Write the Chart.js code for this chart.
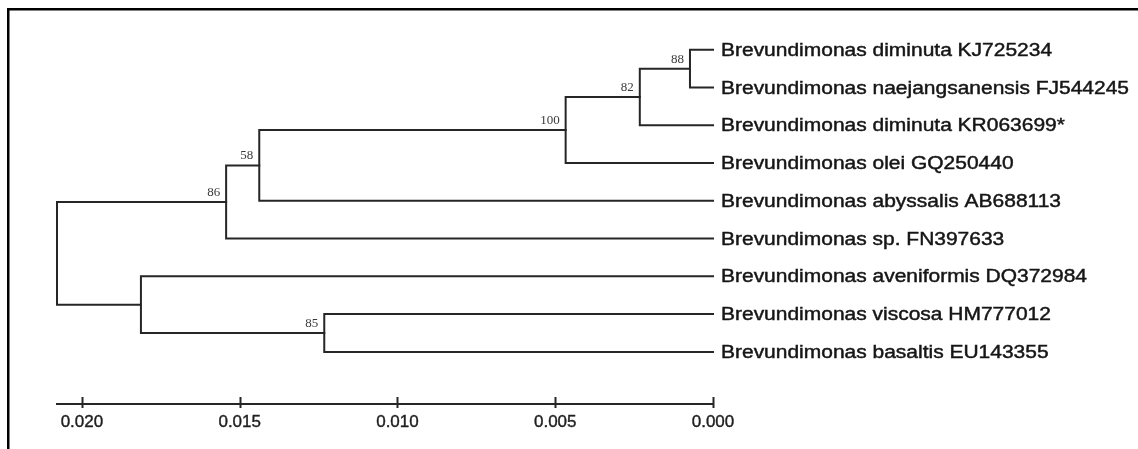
<!DOCTYPE html>
<html>
<head>
<meta charset="utf-8">
<script src="https://cdn.jsdelivr.net/npm/chart.js@4/dist/chart.umd.min.js"></script>
<style>
  html, body { margin: 0; padding: 0; background: #ffffff; }
  #wrap { width: 1138px; height: 449px; position: relative; }
</style>
</head>
<body>
<div id="wrap"><canvas id="c" width="1138" height="449"></canvas></div>
<script>
// ---- Data read from the tree ----
const leafLabels = [
  'Brevundimonas diminuta KJ725234',
  'Brevundimonas naejangsanensis FJ544245',
  'Brevundimonas diminuta KR063699*',
  'Brevundimonas olei GQ250440',
  'Brevundimonas abyssalis AB688113',
  'Brevundimonas sp. FN397633',
  'Brevundimonas aveniformis DQ372984',
  'Brevundimonas viscosa HM777012',
  'Brevundimonas basaltis EU143355'
];
const leafHeights = [0, 0, 0, 0, 0, 0, 0, 0, 0];
const nodeIds = ['n88', 'n82', 'n100', 'n58', 'n86', 'n85', 'nAvBas', 'root'];
const nodeHeights = [0.00073, 0.00232, 0.00467, 0.01438, 0.01543, 0.01232, 0.01813, 0.02079];
const nodeChildren = [
  ['L0', 'L1'], ['n88', 'L2'], ['n82', 'L3'], ['n100', 'L4'],
  ['n58', 'L5'], ['L7', 'L8'], ['L6', 'n85'], ['n86', 'nAvBas']
];
const bootstrapValues = [88, 82, 100, 58, 86, 85, null, null];
const xTickValues = [0.020, 0.015, 0.010, 0.005, 0.000];

// ---- Tree layout (y = leaf order, x = distance) ----
const pos = {};
leafLabels.forEach((_, i) => { pos['L' + i] = { h: leafHeights[i], y: i }; });
nodeIds.forEach((id, i) => {
  const [a, b] = nodeChildren[i];
  pos[id] = { h: nodeHeights[i], y: (pos[a].y + pos[b].y) / 2 };
});

const lineColor = '#262626';
const datasets = nodeIds.map((id, i) => {
  const [a, b] = nodeChildren[i];
  const A = pos[a], B = pos[b], N = pos[id];
  return {
    label: id,
    data: [{ x: A.h, y: A.y }, { x: N.h, y: A.y }, { x: N.h, y: B.y }, { x: B.h, y: B.y }],
    showLine: true, fill: false, tension: 0,
    borderColor: lineColor, borderWidth: 2,
    pointRadius: 0, pointHoverRadius: 0,
    borderCapStyle: 'square', borderJoinStyle: 'miter',
    clip: false
  };
});

const framePlugin = {
  id: 'frame',
  beforeDraw(chart) {
    const ctx = chart.ctx;
    ctx.save();
    ctx.fillStyle = '#ffffff';
    ctx.fillRect(0, 0, chart.width, chart.height);
    ctx.fillStyle = '#000000';
    ctx.fillRect(7, 8, chart.width - 7, 2.5);
    ctx.fillRect(7, 8, 2.5, chart.height - 8);
    ctx.restore();
  }
};

const labelPlugin = {
  id: 'treeLabels',
  afterDatasetsDraw(chart) {
    const ctx = chart.ctx;
    const xs = chart.scales.x, ys = chart.scales.y;
    ctx.save();
    // leaf labels
    ctx.fillStyle = '#161616';
    ctx.strokeStyle = '#161616';
    ctx.lineWidth = 0.45;
    ctx.font = '18px "Liberation Sans", Arial, sans-serif';
    ctx.textAlign = 'left';
    ctx.textBaseline = 'alphabetic';
    leafLabels.forEach((name, i) => {
      const px = xs.getPixelForValue(leafHeights[i]) + 8;
      const py = ys.getPixelForValue(i) + 6;
      ctx.save();
      ctx.translate(px, py);
      ctx.scale(1.165, 1);
      ctx.fillText(name, 0, 0);
      ctx.strokeText(name, 0, 0);
      ctx.restore();
    });
    // bootstrap values
    ctx.fillStyle = '#3a3a3a';
    ctx.font = '13px "Liberation Serif", "Times New Roman", serif';
    ctx.textAlign = 'right';
    nodeIds.forEach((id, i) => {
      const v = bootstrapValues[i];
      if (v === null) return;
      const px = xs.getPixelForValue(pos[id].h) - 6;
      const py = ys.getPixelForValue(pos[id].y) - 6;
      ctx.fillText(String(v), px, py);
    });
    // scale-bar tick marks
    ctx.strokeStyle = lineColor;
    ctx.lineWidth = 2;
    const base = xs.top;
    xs.ticks.forEach(t => {
      const px = Math.round(xs.getPixelForValue(t.value)) + 0.5;
      ctx.beginPath();
      ctx.moveTo(px, base - 7);
      ctx.lineTo(px, base + 4);
      ctx.stroke();
    });
    ctx.restore();
  }
};

new Chart(document.getElementById('c'), {
  type: 'scatter',
  data: { datasets },
  options: {
    responsive: false,
    devicePixelRatio: 1,
    animation: false,
    events: [],
    layout: { padding: { left: 57, right: 425, top: 12, bottom: 0 } },
    plugins: { legend: { display: false }, tooltip: { enabled: false } },
    scales: {
      x: {
        type: 'linear',
        reverse: true,
        min: 0,
        max: nodeHeights[nodeHeights.length - 1],
        afterBuildTicks(scale) { scale.ticks = xTickValues.map(v => ({ value: v })); },
        afterFit(scale) { scale.height = 45; },
        grid: { display: true, drawOnChartArea: false, drawTicks: false },
        border: { display: true, color: lineColor, width: 2 },
        ticks: {
          padding: 8,
          color: '#1e1e1e',
          textStrokeColor: '#1e1e1e',
          textStrokeWidth: 0.4,
          font: { family: '"Liberation Sans", Arial, sans-serif', size: 17 },
          maxRotation: 0,
          autoSkip: false,
          callback: v => Number(v).toFixed(3)
        }
      },
      y: {
        type: 'linear',
        display: false,
        reverse: true,
        min: -1,
        max: 9.38
      }
    }
  },
  plugins: [framePlugin, labelPlugin]
});
</script>
</body>
</html>
